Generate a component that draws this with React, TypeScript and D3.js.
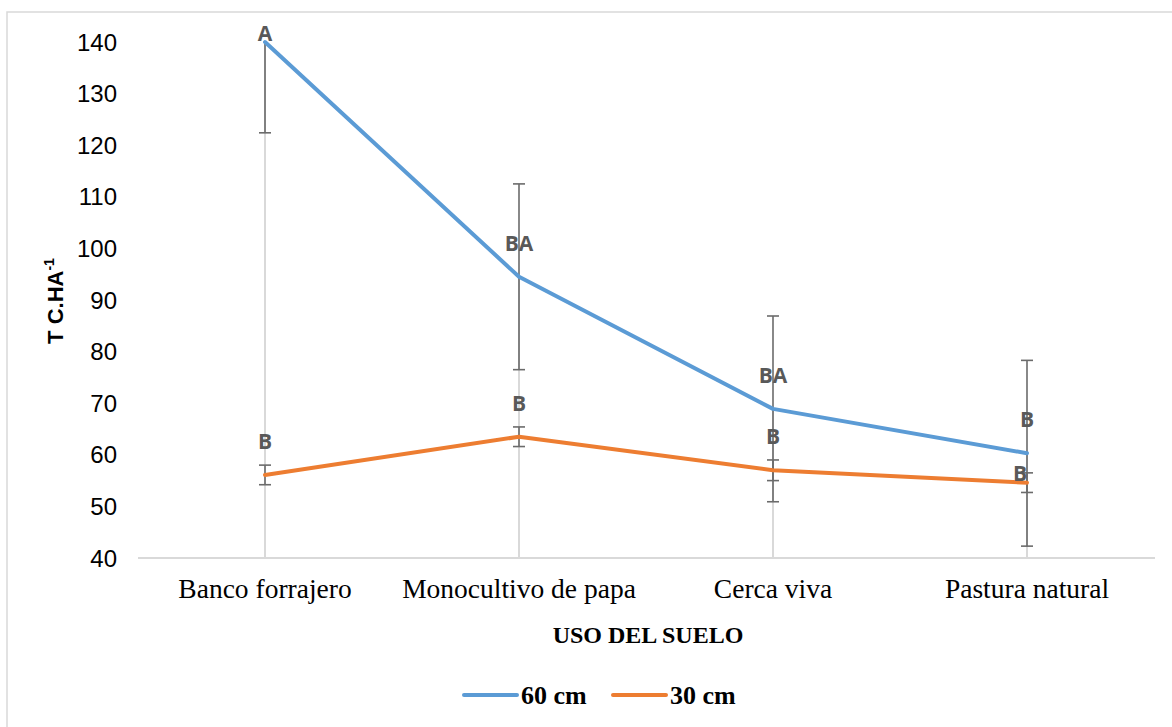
import React from "react";
import * as d3 from "d3";

const categories = ["Banco forrajero", "Monocultivo de papa", "Cerca viva", "Pastura natural"];
const values60 = [140, 94.5, 68.9, 60.3];
const err60 = [17.6, 18, 18, 18];
const letters60 = ["A", "BA", "BA", "B"];
const values30 = [56.1, 63.5, 57.0, 54.6];
const err30 = [1.9, 1.9, 2.0, 1.9];
const letters30 = ["B", "B", "B", "B"];
const yTicks = [40, 50, 60, 70, 80, 90, 100, 110, 120, 130, 140];
const seriesNames = ["60 cm", "30 cm"];

const W = 1172;
const H = 727;
const plot = { left: 138, right: 1154, top: 42, bottom: 558 };
const colors = ["#5b9bd5", "#ed7d31"];
// label nudges (style only): [dx, dy]
const nudge60 = [[0, 0], [0, 0], [0, 0], [0, 0]];
const nudge30 = [[0, 0], [0, 0], [0, 0], [-7, 24]];

export default function App() {
  const x = d3.scalePoint<string>().domain(categories).range([plot.left, plot.right]).padding(0.5);
  const y = d3.scaleLinear().domain([40, 140]).range([plot.bottom, plot.top]);
  const line = d3
    .line<number>()
    .x((_, i) => x(categories[i]) as number)
    .y((d) => y(d));

  const series = [
    { vals: values60, errs: err60, letters: letters60, nudge: nudge60, color: colors[0] },
    { vals: values30, errs: err30, letters: letters30, nudge: nudge30, color: colors[1] },
  ];

  const letterFont = "'Open Sans', 'Liberation Sans', Arial, sans-serif";

  return (
    <svg width={W} height={H} style={{ position: "absolute", left: 0, top: 0, background: "#fff" }}>
      <defs>
        <clipPath id="plotClip">
          <rect x={plot.left} y={plot.top} width={plot.right - plot.left} height={plot.bottom - plot.top} />
        </clipPath>
      </defs>
      <rect x={0} y={0} width={W} height={H} fill="#fff" />
      <rect x={7} y={12} width={W + 10} height={H + 10} fill="none" stroke="#d9d9d9" strokeWidth={1.5} />

      {/* drop lines */}
      {categories.map((c, i) => (
        <line
          key={"drop" + i}
          x1={x(c)}
          x2={x(c)}
          y1={y(Math.max(values60[i], values30[i]))}
          y2={plot.bottom}
          stroke="#d9d9d9"
          strokeWidth={2}
        />
      ))}

      {/* x axis line */}
      <line x1={plot.left} x2={plot.right + 1} y1={plot.bottom} y2={plot.bottom} stroke="#d9d9d9" strokeWidth={2} />

      {/* y tick labels */}
      {yTicks.map((t) => (
        <text
          key={"yt" + t}
          x={117}
          y={y(t) + 8.5}
          textAnchor="end"
          fontFamily="'Liberation Sans', Arial, sans-serif"
          fontSize={24}
          fill="#000"
        >
          {t}
        </text>
      ))}

      {/* category labels */}
      {categories.map((c) => (
        <text
          key={"cat" + c}
          x={x(c)}
          y={598}
          textAnchor="middle"
          fontFamily="'Liberation Serif', 'Times New Roman', serif"
          fontSize={27.5}
          fill="#000"
        >
          {c}
        </text>
      ))}

      {/* error bars */}
      <g clipPath="url(#plotClip)">
        {series.map((s, si) =>
          s.vals.map((v, i) => {
            const cx = x(categories[i]) as number;
            const y1 = y(v + s.errs[i]);
            const y2 = y(v - s.errs[i]);
            return (
              <g key={"eb" + si + "_" + i} stroke="#6b6b6b" strokeWidth={1.6}>
                <line x1={cx} x2={cx} y1={y1} y2={y2} />
                <line x1={cx - 6} x2={cx + 6} y1={y1} y2={y1} />
                <line x1={cx - 6} x2={cx + 6} y1={y2} y2={y2} />
              </g>
            );
          })
        )}
      </g>

      {/* lines */}
      {series.map((s, si) => (
        <path
          key={"ln" + si}
          d={line(s.vals) || ""}
          fill="none"
          stroke={s.color}
          strokeWidth={4}
          strokeLinejoin="round"
          strokeLinecap="round"
        />
      ))}

      {/* letters */}
      {series.map((s, si) =>
        s.vals.map((v, i) => {
          const cx = (x(categories[i]) as number) + s.nudge[i][0];
          const cy = Math.max(y(v) - 34, plot.top - 9) + s.nudge[i][1];
          return (
            <text
              key={"lt" + si + "_" + i}
              x={cx}
              y={cy + 8}
              textAnchor="middle"
              fontFamily={letterFont}
              fontWeight="bold"
              fontSize={21}
              fill="#595959"
            >
              {s.letters[i]}
            </text>
          );
        })
      )}

      {/* y axis title */}
      <text
        transform={`translate(62.5, 301) rotate(-90)`}
        textAnchor="middle"
        fontFamily="'Liberation Sans', Arial, sans-serif"
        fontWeight="bold"
        fontSize={22}
        fill="#000"
      >
        T C.HA
        <tspan fontSize={14} dy={-9}>-1</tspan>
      </text>

      {/* x axis title */}
      <text
        x={648}
        y={643}
        textAnchor="middle"
        fontFamily="'Liberation Serif', 'Times New Roman', serif"
        fontWeight="bold"
        fontSize={24}
        fill="#000"
      >
        USO DEL SUELO
      </text>

      {/* legend */}
      {seriesNames.map((n, i) => {
        const lx = i === 0 ? 464 : 613;
        return (
          <g key={"lg" + i}>
            <line x1={lx} x2={lx + 53} y1={695} y2={695} stroke={colors[i]} strokeWidth={4} strokeLinecap="round" />
            <text
              x={lx + 57}
              y={704}
              fontFamily="'Liberation Serif', 'Times New Roman', serif"
              fontWeight="bold"
              fontSize={26}
              fill="#000"
            >
              {n}
            </text>
          </g>
        );
      })}
    </svg>
  );
}
